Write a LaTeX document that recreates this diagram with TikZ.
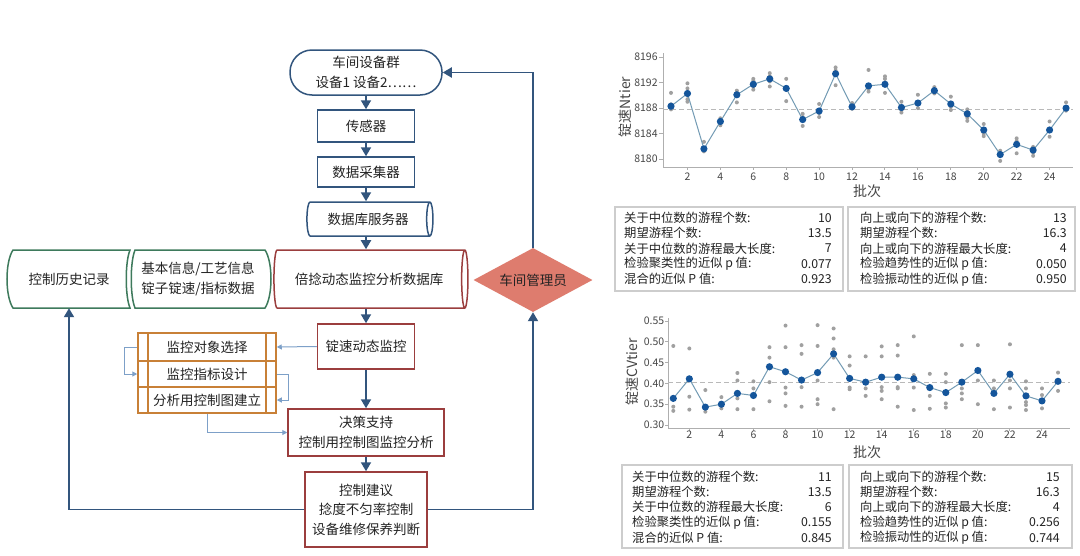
\documentclass[tikz,border=0pt]{standalone}
\usepackage{fontspec}
\setmainfont{Noto Sans CJK SC}
\usetikzlibrary{shapes.geometric,arrows.meta}
\definecolor{dblue}{RGB}{50,85,125}
\definecolor{rbrown}{RGB}{155,62,62}
\definecolor{gline}{RGB}{62,122,92}
\definecolor{oline}{RGB}{200,128,55}
\definecolor{salmon}{RGB}{222,124,110}
\definecolor{lblue}{RGB}{125,160,200}
\definecolor{txt}{RGB}{35,35,35}
\definecolor{ticktxt}{RGB}{70,70,70}
\definecolor{axisc}{RGB}{175,175,175}
\definecolor{mblue}{RGB}{20,85,155}
\definecolor{mline}{RGB}{115,155,180}
\definecolor{gdot}{RGB}{160,160,160}
\definecolor{dashc}{RGB}{185,185,185}
\definecolor{tabline}{RGB}{205,205,205}
\newcommand\flowfont{\fontsize{13.5pt}{19.5pt}\selectfont}
\newcommand\orfont{\fontsize{13.5pt}{16pt}\selectfont}
\newcommand\tabfont{\fontsize{12.3pt}{15pt}\selectfont}
\newcommand\tickfont{\fontsize{10.5pt}{12pt}\selectfont}
\newcommand\titfont{\fontsize{14pt}{16pt}\selectfont}
\tikzset{
  flow/.style={font=\flowfont, text=txt, align=center, inner sep=0pt},
  bluebox/.style={flow, draw=dblue, line width=1.5pt, fill=white, rectangle},
  redbox/.style={flow, draw=rbrown, line width=1.5pt, fill=white, rectangle},
  obox/.style={font=\orfont, text=txt, draw=oline, line width=1.5pt, fill=white, rectangle, minimum width=138pt, inner sep=0pt},
  cyl/.style={flow, cylinder, shape border rotate=0, aspect=0.5, fill=white, line width=1.5pt},
  marrow/.style={draw=dblue, line width=1.8pt, -{Triangle[length=9pt,width=10pt]}},
  larrow/.style={draw=lblue, line width=1pt, -{Triangle[length=5pt,width=5pt]}},
  gshape/.style={draw=gline, line width=1.5pt, fill=white},
  axisline/.style={draw=axisc, line width=1pt},
  ticklab/.style={font=\tickfont, text=ticktxt, inner sep=0pt},
  axtitle/.style={font=\titfont, text=ticktxt, inner sep=0pt},
  meanline/.style={draw=mline, line width=1pt},
  tabbox/.style={draw=tabline, line width=1.2pt, rectangle, inner sep=0pt},
  tabtxt/.style={font=\tabfont, text=txt, inner sep=0pt}
}
\begin{document}
\begin{tikzpicture}[x=1pt,y=-1pt]
\useasboundingbox[fill=white] (0,0) rectangle (1080,555);

% ---------- flowchart ----------
\node[bluebox, rounded corners=22pt, minimum width=152pt, minimum height=45pt] (term) at (366,72.5) {车间设备群\\设备1 设备2……};
\node[bluebox, minimum width=97pt, minimum height=32pt] (sensor) at (366,126) {传感器};
\node[bluebox, minimum width=97pt, minimum height=30pt] (coll) at (366,172) {数据采集器};
\node[cyl, draw=dblue, minimum height=126pt, minimum width=34pt] (server) at (368,219) {数据库服务器};
\node[cyl, draw=rbrown, minimum height=194pt, minimum width=58pt] (db) at (369,279) {倍捻动态监控分析数据库};

\draw[gshape] (13,250) -- (130,250) .. controls (125,262) and (125,296) .. (130,308) -- (13,308) .. controls (5,296) and (5,262) .. (13,250) -- cycle;
\draw[gshape] (135,250) -- (265,250) .. controls (273,262) and (273,296) .. (265,308) -- (135,308) .. controls (130,296) and (130,262) .. (135,250) -- cycle;
\node[flow, minimum width=116pt, minimum height=58pt] (g1) at (69,279) {控制历史记录};
\node[flow, minimum width=120pt, minimum height=58pt] (g2) at (198,279) {基本信息/工艺信息\\锭子锭速/指标数据};

\node[flow, diamond, fill=salmon, aspect=1.86, minimum width=119pt, minimum height=64pt] (mgr) at (533,280) {车间管理员};

\node[redbox, minimum width=97pt, minimum height=45pt] (mon) at (366,346.5) {锭速动态监控};
\node[redbox, minimum width=156pt, minimum height=47pt] (dec) at (366,432.5) {决策支持\\控制用控制图监控分析};
\node[redbox, minimum width=122pt, minimum height=75pt] (adv) at (366,509.5) {控制建议\\捻度不匀率控制\\设备维修保养判断};

\node[obox, minimum height=28pt] (r1) at (207,347) {监控对象选择};
\node[obox, minimum height=26pt] (r2) at (207,374) {监控指标设计};
\node[obox, minimum height=26pt] (r3) at (207,400) {分析用控制图建立};
\draw[draw=oline, line width=1.5pt] (148,333) -- (148,413) (266,333) -- (266,413);

\draw[marrow] (term.south) -- (sensor.north);
\draw[marrow] (sensor.south) -- (coll.north);
\draw[marrow] (coll.south) -- (coll |- server.north);
\draw[marrow] (coll |- server.south) -- (coll |- db.north);
\draw[marrow] (mon |- db.south) -- (mon.north);
\draw[marrow] (mon.south) -- (dec.north);
\draw[marrow] (dec.south) -- (adv.north);
\draw[marrow] (adv.west) -| (g1.south);
\draw[marrow] (adv.east) -| (mgr.south);
\draw[marrow] (mgr.north) |- (term.east);

\draw[larrow] (mon.west) -- (r1.east);
\draw[larrow] (r1.west) -- ++(-13,0) |- (r2.west);
\draw[larrow] (r2.east) -- ++(12,0) |- (r3.east);
\draw[larrow] (r3.south) |- (dec.west);

% ---------- chart 1 ----------
\draw[axisline] (663,53) -- (663,167) -- (1073,167);
\draw[dashed, draw=dashc, line width=0.9pt, dash pattern=on 5pt off 3pt] (663,109.2) -- (1073,109.2);
\node[axtitle, rotate=90] (yt1) at (625,107) {锭速Ntier};
\node[axtitle] (xt1) at (867,191) {批次};
\begin{scope}[shift={(654.54,159)}, x=16.46pt, y=6.36pt]
  \foreach \d/\l in {0/8180,4/8184,8/8188,12/8192,16/8196}{
    \draw[axisline] (0.5,\d) -- (0.3,\d);
    \node[ticklab, anchor=east] (ya\l) at (0.2,\d) {\l};
  }
  \foreach \i in {2,4,...,24}{
    \draw[axisline] (\i,-1.26) -- (\i,-1.75);
    \node[ticklab] (xa\i) at (\i,-2.8) {\i};
  }
  \foreach \i/\vs in {1/{10.4,7.8,8.6},2/{11.9,11.1,9.4,9.0},3/{2.7,1.2},4/{6.4,5.3},5/{10.75,8.9,10.4},6/{12.6,12.3,10.9,11.4},7/{13.5,11.4,13.0,12.2},8/{12.6,9.1,10.9},9/{7.1,5.2,6.6},10/{8.65,6.6,7.2},11/{14.4,11.6,13.9},12/{8.8,7.9},13/{14.0,10.6,11.0},14/{13.0,12.6,10.4},15/{9.0,7.3,7.7},16/{10.1,8.0},17/{11.3,10.3},18/{9.8,7.7,8.2},19/{7.8,6.0,6.5},20/{5.5,3.6,4.0},21/{1.3,-0.3},22/{3.25,0.9,2.8},23/{1.9,0.5,1.0},24/{5.9,3.5},25/{8.9,7.6}}{
    \foreach \v in \vs { \fill[gdot] (\i,\v) circle[radius=2pt]; }
  }
  \draw[meanline] plot coordinates {(1,8.3) (2,10.3) (3,1.6) (4,5.9) (5,10.1) (6,11.75) (7,12.6) (8,11.1) (9,6.2) (10,7.55) (11,13.4) (12,8.2) (13,11.5) (14,11.75) (15,8.1) (16,8.8) (17,10.75) (18,8.65) (19,7.1) (20,4.56) (21,0.7) (22,2.3) (23,1.4) (24,4.56) (25,8.0)};
  \foreach \i/\v in {1/8.3,2/10.3,3/1.6,4/5.9,5/10.1,6/11.75,7/12.6,8/11.1,9/6.2,10/7.55,11/13.4,12/8.2,13/11.5,14/11.75,15/8.1,16/8.8,17/10.75,18/8.65,19/7.1,20/4.56,21/0.7,22/2.3,23/1.4,24/4.56,25/8.0}{
    \fill[mblue] (\i,\v) circle[radius=3.6pt];
  }
\end{scope}

% ---------- table 1 ----------
\node[tabbox, minimum width=228pt, minimum height=84pt] (tb1) at (729,249) {};
\node[tabbox, minimum width=227pt, minimum height=84pt] (tb2) at (961.5,249) {};
\foreach \k/\a/\b/\c/\e in {0/关于中位数的游程个数:/10/向上或向下的游程个数:/13,1/期望游程个数:/13.5/期望游程个数:/16.3,2/关于中位数的游程最大长度:/7/向上或向下的游程最大长度:/4,3/检验聚类性的近似 p 值:/0.077/检验趋势性的近似 p 值:/0.050,4/混合的近似 P 值:/0.923/检验振动性的近似 p 值:/0.950}{
  \node[tabtxt, anchor=west] (ta\k) at (624,218+15.3*\k) {\a};
  \node[tabtxt, anchor=east] (tn\k) at (832,218+15.3*\k) {\b};
  \node[tabtxt, anchor=west] (tc\k) at (860,218+15.3*\k) {\c};
  \node[tabtxt, anchor=east] (te\k) at (1067,218+15.3*\k) {\e};
}

% ---------- chart 2 ----------
\draw[axisline] (668,318) -- (668,428) -- (1070,428);
\draw[dashed, draw=dashc, line width=0.9pt, dash pattern=on 5pt off 3pt] (668,382.2) -- (1070,382.2);
\node[axtitle, rotate=90] (yt2) at (632,372) {锭速CVtier};
\node[axtitle] (xt2) at (867,452) {批次};
\begin{scope}[shift={(657.27,425)}, x=16.03pt, y=4.16pt]
  \foreach \d/\l in {0/0.30,5/0.35,10/0.40,15/0.45,20/0.50,25/0.55}{
    \draw[axisline] (0.69,\d) -- (0.5,\d);
    \node[ticklab, anchor=east] (yb\d) at (0.45,\d) {\l};
  }
  \foreach \i in {2,4,...,24}{
    \draw[axisline] (\i,-0.72) -- (\i,-1.4);
    \node[ticklab] (xb\i) at (\i,-2.3) {\i};
  }
  \foreach \i/\vs in {1/{19.0,4.4,3.4},2/{18.4,6.8,3.7},3/{8.4,3.2},4/{6.7,4.0,4.5},5/{12.5,10.7,6.4,3.8},6/{10.5,8.8,3.8},7/{18.7,16.2,10.3,5.7},8/{23.9,18.7,9.0,7.6,4.6},9/{19.2,17.1,9.1,4.4},10/{24.0,19.0,10.7,6.2,5.0},11/{23.2,20.8,18.2,16.2,3.8},12/{16.5,14.3,9.0,8.6},13/{16.5,8.8,7.0},14/{18.9,16.5,9.1,8.2,6.2},15/{19.2,16.7,9.1,8.8,4.4},16/{21.3,12.0,9.0,3.6},17/{12.3,7.0,3.9},18/{12.3,10.3,5.2,4.2},19/{19.2,8.8,7.6,6.2},20/{19.2,10.7,5.0},21/{10.7,8.8,3.8},22/{19.4,10.7,8.8,4.2},23/{10.5,8.8,5.5,4.8,3.6},24/{8.8,7.2,4.0},25/{12.6,8.2}}{
    \foreach \v in \vs { \fill[gdot] (\i,\v) circle[radius=2pt]; }
  }
  \draw[meanline] plot coordinates {(1,6.4) (2,11.1) (3,4.3) (4,5.0) (5,7.6) (6,7.1) (7,14.0) (8,12.8) (9,10.8) (10,12.6) (11,17.1) (12,11.2) (13,10.3) (14,11.5) (15,11.5) (16,11.1) (17,9.0) (18,7.8) (19,10.3) (20,13.1) (21,7.6) (22,12.2) (23,7.0) (24,5.8) (25,10.5)};
  \foreach \i/\v in {1/6.4,2/11.1,3/4.3,4/5.0,5/7.6,6/7.1,7/14.0,8/12.8,9/10.8,10/12.6,11/17.1,12/11.2,13/10.3,14/11.5,15/11.5,16/11.1,17/9.0,18/7.8,19/10.3,20/13.1,21/7.6,22/12.2,23/7.0,24/5.8,25/10.5}{
    \fill[mblue] (\i,\v) circle[radius=3.6pt];
  }
\end{scope}

% ---------- table 2 ----------
\node[tabbox, minimum width=221pt, minimum height=83pt] (tb3) at (732.5,506.5) {};
\node[tabbox, minimum width=223pt, minimum height=83pt] (tb4) at (960.5,506.5) {};
\foreach \k/\a/\b/\c/\e in {0/关于中位数的游程个数:/11/向上或向下的游程个数:/15,1/期望游程个数:/13.5/期望游程个数:/16.3,2/关于中位数的游程最大长度:/6/向上或向下的游程最大长度:/4,3/检验聚类性的近似 p 值:/0.155/检验趋势性的近似 p 值:/0.256,4/混合的近似 P 值:/0.845/检验振动性的近似 p 值:/0.744}{
  \node[tabtxt, anchor=west] (sa\k) at (632,476.7+15.25*\k) {\a};
  \node[tabtxt, anchor=east] (sn\k) at (832,476.7+15.25*\k) {\b};
  \node[tabtxt, anchor=west] (sc\k) at (860,476.7+15.25*\k) {\c};
  \node[tabtxt, anchor=east] (se\k) at (1060,476.7+15.25*\k) {\e};
}
\end{tikzpicture}
\end{document}
